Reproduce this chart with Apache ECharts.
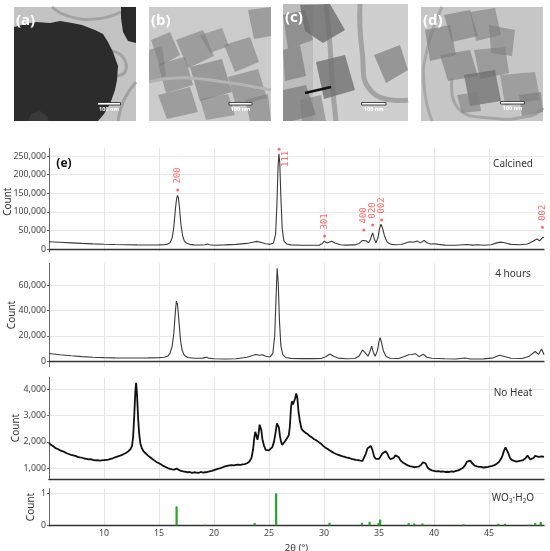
<!DOCTYPE html>
<html><head><meta charset="utf-8">
<script src="https://cdn.jsdelivr.net/npm/echarts@6/dist/echarts.min.js"></script>
<style>html,body{margin:0;padding:0;background:#fff}#c{width:550px;height:551px}</style>
</head><body><div id="c"></div>
<script>
// ---------- DATA ----------
const xTicks = [10, 15, 20, 25, 30, 35, 40, 45];
const panelNames = ['Calcined', '4 hours', 'No Heat', 'WO3·H2O'];
const calcined = [[5,19500],[6,18000],[7,16500],[8,15000],[9,13800],[10,12800],[11,12000],[12,11400],[13,11000],[14,10800],[15,11000],[15.5,11600],[15.8,13000],[16.0,17000],[16.2,30000],[16.35,60000],[16.5,110000],[16.6,135000],[16.68,144000],[16.76,138000],[16.85,115000],[17.0,65000],[17.15,35000],[17.3,22000],[17.5,15500],[17.8,12500],[18.2,11200],[18.8,10800],[19.2,11500],[19.4,13500],[19.6,11500],[20.0,10200],[21.0,11000],[22.0,12500],[23.0,15000],[23.5,18000],[23.9,20500],[24.3,17500],[24.7,14000],[25.1,12500],[25.4,16000],[25.6,40000],[25.72,120000],[25.82,220000],[25.9,256000],[25.98,230000],[26.08,140000],[26.2,55000],[26.35,22000],[26.6,13500],[27.0,11000],[28,10200],[29,10000],[29.6,10500],[29.85,15000],[30.03,21000],[30.3,16000],[30.5,18500],[30.7,21000],[31.0,16000],[31.5,11500],[32.0,10500],[32.8,11000],[33.2,15000],[33.5,23000],[33.67,27000],[33.85,22000],[34.05,16500],[34.2,25000],[34.42,43500],[34.57,28000],[34.72,17000],[34.9,30000],[35.05,55000],[35.18,66500],[35.3,58000],[35.5,35000],[35.75,18000],[36.1,12500],[36.5,11500],[37.0,12000],[37.5,17000],[37.8,19500],[38.15,18000],[38.45,21500],[38.75,16500],[39.1,23000],[39.4,16000],[39.7,13500],[40.1,14000],[40.4,12500],[41.0,10500],[42.0,10200],[43.0,12000],[43.5,10500],[44.0,11500],[44.5,10200],[45.2,11500],[45.7,16500],[46.05,18500],[46.4,17000],[47.0,12500],[47.8,11500],[48.5,13500],[49.0,21000],[49.35,27000],[49.6,22000],[49.9,32000],[50.0,30000]];
const hours4 = [[5,6000],[6,5000],[7,4200],[8,3500],[9,3000],[10,2700],[11,2500],[12,2400],[13,2400],[14,2500],[15,2700],[15.5,3000],[15.8,3800],[16.0,6000],[16.2,12000],[16.35,22000],[16.48,38000],[16.58,47500],[16.68,45000],[16.8,33000],[16.95,17000],[17.1,8500],[17.3,4500],[17.6,2800],[18.2,2200],[19.0,2300],[19.3,3000],[19.5,2300],[20.0,1800],[21.0,1600],[22.0,1800],[23.0,3000],[23.5,4300],[23.8,5200],[24.1,4500],[24.4,5000],[24.7,3800],[25.1,3200],[25.35,6000],[25.52,20000],[25.64,50000],[25.74,73500],[25.84,62000],[25.95,32000],[26.08,12000],[26.25,5000],[26.5,2800],[27,2100],[28,1900],[29,1900],[29.8,2100],[30.2,3500],[30.55,5500],[30.9,3600],[31.3,2300],[32,1800],[32.8,2000],[33.2,4000],[33.5,8800],[33.75,6500],[34.0,3800],[34.18,7500],[34.33,11800],[34.48,7000],[34.65,3800],[34.85,8000],[35.0,15500],[35.1,18500],[35.22,15000],[35.4,8000],[35.65,3500],[36,2200],[36.8,2000],[37.3,3500],[37.7,5000],[38.0,5200],[38.3,5800],[38.65,3500],[39.05,5300],[39.35,3000],[39.8,2200],[41,1800],[42,1600],[42.8,2400],[43.3,1600],[44.5,1700],[45.4,2500],[45.95,4600],[46.4,3600],[47,2200],[48,2000],[48.6,3500],[49.2,7500],[49.5,5200],[49.78,9500],[50,5000]];
const noHeat = [[5.0,1960],[5.1,1930],[5.2,1880],[5.3,1870],[5.4,1830],[5.5,1800],[5.6,1760],[5.7,1760],[5.8,1730],[5.9,1700],[6.0,1680],[6.1,1690],[6.2,1650],[6.3,1640],[6.4,1620],[6.5,1580],[6.6,1570],[6.7,1570],[6.8,1540],[6.9,1530],[7.0,1510],[7.1,1520],[7.2,1490],[7.3,1480],[7.4,1470],[7.5,1460],[7.6,1430],[7.7,1440],[7.8,1410],[7.9,1420],[8.0,1400],[8.1,1380],[8.2,1370],[8.3,1390],[8.4,1360],[8.5,1340],[8.6,1340],[8.7,1360],[8.8,1350],[8.9,1320],[9.0,1320],[9.1,1330],[9.2,1300],[9.3,1320],[9.4,1310],[9.5,1280],[9.6,1290],[9.7,1310],[9.8,1300],[9.9,1290],[10.0,1310],[10.1,1300],[10.2,1320],[10.3,1340],[10.4,1330],[10.5,1340],[10.6,1360],[10.7,1370],[10.8,1380],[10.9,1400],[11.0,1410],[11.1,1420],[11.2,1440],[11.3,1460],[11.4,1470],[11.5,1480],[11.6,1500],[11.7,1530],[11.8,1540],[11.9,1560],[12.0,1580],[12.1,1610],[12.2,1640],[12.3,1680],[12.4,1720],[12.5,1790],[12.55,1850],[12.65,2200],[12.75,3000],[12.85,3900],[12.92,4230],[13.0,3800],[13.1,2900],[13.2,2300],[13.3,1950],[13.45,1750],[13.6,1640],[13.7,1600],[13.8,1560],[13.9,1510],[14.0,1480],[14.1,1460],[14.2,1420],[14.3,1390],[14.4,1350],[14.5,1330],[14.6,1290],[14.7,1270],[14.8,1230],[14.9,1220],[15.0,1190],[15.1,1160],[15.2,1140],[15.3,1120],[15.4,1090],[15.5,1080],[15.6,1050],[15.7,1030],[15.8,1010],[15.9,1000],[16.0,980],[16.1,970],[16.2,960],[16.3,940],[16.4,950],[16.5,980],[16.6,990],[16.7,960],[16.8,940],[16.9,920],[17.0,900],[17.1,890],[17.2,880],[17.3,890],[17.4,870],[17.5,860],[17.6,850],[17.7,870],[17.8,860],[17.9,840],[18.0,830],[18.1,860],[18.2,850],[18.3,830],[18.4,840],[18.5,860],[18.6,830],[18.7,840],[18.8,860],[18.9,850],[19.0,840],[19.1,870],[19.2,850],[19.3,840],[19.4,860],[19.5,870],[19.6,880],[19.7,870],[19.8,900],[19.9,910],[20.0,930],[20.1,940],[20.2,960],[20.3,970],[20.4,990],[20.5,1000],[20.6,1010],[20.7,1030],[20.8,1040],[20.9,1060],[21.0,1070],[21.1,1080],[21.2,1090],[21.3,1100],[21.4,1110],[21.5,1100],[21.6,1120],[21.7,1130],[21.8,1110],[21.9,1120],[22.0,1130],[22.1,1120],[22.2,1140],[22.3,1150],[22.4,1130],[22.5,1140],[22.6,1150],[22.7,1170],[22.8,1160],[22.9,1180],[23.0,1190],[23.1,1210],[23.2,1250],[23.3,1300],[23.4,1380],[23.55,1700],[23.65,2100],[23.75,2380],[23.85,2250],[23.95,2080],[24.05,2300],[24.15,2650],[24.22,2720],[24.3,2450],[24.4,2100],[24.55,1850],[24.7,1700],[24.85,1660],[25.0,1680],[25.15,1720],[25.3,1800],[25.45,2000],[25.6,2350],[25.72,2700],[25.8,2760],[25.9,2550],[26.0,2200],[26.1,2000],[26.2,1880],[26.35,1920],[26.5,2050],[26.65,2150],[26.8,2250],[26.9,2600],[27.0,3300],[27.08,3530],[27.18,3420],[27.27,3380],[27.38,3650],[27.48,3830],[27.58,3650],[27.68,3150],[27.8,2800],[27.95,2500],[28.1,2420],[28.2,2400],[28.3,2350],[28.4,2340],[28.5,2300],[28.6,2270],[28.7,2220],[28.8,2200],[28.9,2170],[29.0,2140],[29.1,2100],[29.2,2090],[29.3,2060],[29.4,2030],[29.5,2000],[29.6,1980],[29.7,1940],[29.8,1900],[29.9,1860],[30.0,1830],[30.1,1790],[30.2,1770],[30.3,1740],[30.4,1700],[30.5,1680],[30.6,1650],[30.7,1630],[30.8,1600],[30.9,1580],[31.0,1560],[31.1,1540],[31.2,1530],[31.3,1510],[31.4,1490],[31.5,1480],[31.6,1470],[31.7,1450],[31.8,1440],[31.9,1430],[32.0,1410],[32.1,1400],[32.2,1400],[32.3,1390],[32.4,1370],[32.5,1360],[32.6,1350],[32.7,1340],[32.8,1330],[32.9,1320],[33.0,1310],[33.1,1310],[33.2,1300],[33.3,1290],[33.4,1280],[33.5,1280],[33.65,1350],[33.8,1550],[33.95,1750],[34.1,1820],[34.25,1850],[34.4,1700],[34.55,1450],[34.7,1360],[34.85,1330],[35.0,1360],[35.15,1450],[35.3,1560],[35.45,1620],[35.6,1640],[35.75,1560],[35.9,1420],[36.05,1340],[36.2,1330],[36.35,1400],[36.5,1490],[36.65,1510],[36.8,1420],[36.95,1300],[37.1,1240],[37.2,1210],[37.3,1180],[37.4,1160],[37.5,1130],[37.6,1110],[37.7,1090],[37.8,1080],[37.9,1060],[38.0,1060],[38.1,1050],[38.2,1040],[38.3,1040],[38.4,1050],[38.5,1050],[38.6,1060],[38.7,1080],[38.85,1140],[39.0,1230],[39.12,1260],[39.25,1180],[39.4,1040],[39.5,990],[39.6,960],[39.7,940],[39.8,920],[39.9,910],[40.0,900],[40.1,890],[40.2,880],[40.3,900],[40.4,890],[40.5,870],[40.6,870],[40.7,890],[40.8,880],[40.9,860],[41.0,860],[41.1,880],[41.2,870],[41.3,850],[41.4,860],[41.5,880],[41.6,880],[41.7,860],[41.8,870],[41.9,890],[42.0,900],[42.1,900],[42.2,920],[42.3,940],[42.4,960],[42.5,980],[42.6,1010],[42.7,1050],[42.8,1100],[42.9,1170],[43.0,1250],[43.15,1310],[43.3,1290],[43.45,1200],[43.6,1130],[43.7,1100],[43.8,1080],[43.9,1070],[44.0,1060],[44.1,1050],[44.2,1040],[44.3,1050],[44.4,1040],[44.5,1030],[44.6,1030],[44.7,1040],[44.8,1050],[44.9,1050],[45.0,1060],[45.1,1070],[45.2,1080],[45.3,1090],[45.4,1110],[45.5,1120],[45.6,1140],[45.7,1170],[45.8,1200],[45.9,1240],[46.0,1290],[46.1,1360],[46.2,1450],[46.35,1650],[46.5,1790],[46.6,1760],[46.75,1580],[46.9,1400],[47.05,1320],[47.2,1290],[47.3,1280],[47.4,1270],[47.5,1250],[47.6,1260],[47.7,1270],[47.8,1280],[47.9,1290],[48.0,1300],[48.1,1310],[48.2,1330],[48.3,1370],[48.4,1420],[48.5,1480],[48.6,1430],[48.75,1340],[48.9,1350],[49.05,1390],[49.2,1470],[49.35,1520],[49.5,1430],[49.65,1390],[49.8,1450],[49.9,1420],[50.0,1430]];
const refSticks = [[16.6,0.59],[19.2,0.02],[23.7,0.07],[25.65,1.0],[30.5,0.08],[33.45,0.08],[34.15,0.11],[34.95,0.07],[35.1,0.18],[37.7,0.07],[38.2,0.06],[38.95,0.06],[39.6,0.02],[42.7,0.03],[45.85,0.05],[46.45,0.05],[48.6,0.02],[49.2,0.07],[49.7,0.11]];
const hklLabels = ['200', '', '111', '301', '400', '020', '002', '002'];
const hklPos = [[16.7,158600],[25.92,268000],[26.4,207000],[30.05,35000],[33.62,51000],[34.42,64500],[35.24,78000],[49.85,58300]];
const hklDot = [true, true, false, true, true, true, true, true];

// ---------- LAYOUT ----------
const L = 49, R = 6;
const grids = [
  {top: 148.3, height: 103.4},
  {top: 263.3, height: 103.4},
  {top: 377.3, height: 101.7},
  {top: 488.5, height: 37.5}
];
const yCfg = [
  {min: -7260, max: 270700, split: 5},
  {min: -4520, max: 77440, split: 4},
  {min: 595, max: 4443, split: 4},
  {min: -0.02, max: 1.15, split: 1}
];
const countPos = [[8.5, 201.7], [12.5, 315], [16.5, 428], [31, 507]];
const FONT = 'Noto Sans';
const TICKFS = 8.8;

const xAxes = grids.map((g, i) => ({
  type: 'value', gridIndex: i, min: 5, max: 50, interval: 5,
  axisLine: {show: true, lineStyle: {color: '#333', width: 1.3}},
  axisTick: {show: false},
  axisLabel: {show: i === 3, fontSize: TICKFS, color: '#444', fontFamily: FONT, margin: 3,
    showMinLabel: false, showMaxLabel: false},
  splitLine: {show: true, showMinLine: false, showMaxLine: false, lineStyle: {color: '#e4e4e4', width: 1}},
  name: i === 3 ? '2θ (°)' : '', nameLocation: 'middle', nameGap: 17,
  nameTextStyle: {fontSize: 9.5, color: '#333', fontFamily: FONT}
}));
const yAxes = yCfg.map((c, i) => ({
  type: 'value', gridIndex: i, min: c.min, max: c.max, splitNumber: c.split,
  axisLine: {show: true, lineStyle: {color: '#666', width: 1}},
  axisTick: {show: true, length: 2, lineStyle: {color: '#666'}},
  axisLabel: {fontSize: TICKFS, color: '#444', fontFamily: FONT, margin: 3,
    showMinLabel: false, showMaxLabel: false,
    formatter: v => Number(v).toLocaleString('en-US')},
  splitLine: {show: true, showMinLine: false, showMaxLine: false, lineStyle: {color: '#e8e8e8', width: 1}}
}));

const hklData = hklPos.map((p, i) => ({
  value: p,
  symbolSize: hklDot[i] ? 3 : 0.01,
  itemStyle: {color: hklDot[i] ? '#ff4848' : 'rgba(0,0,0,0)'},
  label: {show: hklLabels[i] !== '', formatter: hklLabels[i]}
}));

// ---------- TEM image sketches (decorative) ----------
function poly(pts, fill, op) { return {type: 'polygon', shape: {points: pts}, style: {fill: fill, opacity: op == null ? 1 : op}, silent: true}; }
function curve(pts, stroke, w) {
  return {type: 'polyline', shape: {points: pts, smooth: 0.5}, style: {stroke: stroke, lineWidth: w, fill: null}, silent: true};
}
function rect(x, y, w, h, fill) { return {type: 'rect', shape: {x, y, width: w, height: h}, style: {fill}, silent: true}; }
function tag(t, x, y) { return {type: 'text', x, y, style: {text: t, fill: '#fff', font: 'bold 15px ' + FONT, textVerticalAlign: 'middle'}, silent: true}; }
function scale(x1, x2, y) {
  return [
    {type: 'rect', shape: {x: x1, y: y, width: x2 - x1, height: 2.5}, style: {fill: '#fff', stroke: '#222', lineWidth: 0.8}, silent: true},
    {type: 'text', x: (x1 + x2) / 2, y: y + 7, style: {text: '100 nm', fill: '#fff', font: 'bold 5.5px ' + FONT, textAlign: 'center', textVerticalAlign: 'middle'}, silent: true}
  ];
}
const P = '#7e7e7e';
const tem = [].concat(
  // (a)
  [rect(14, 7, 122, 114, '#c3c3c3'),
   curve([[52,7],[68,16],[96,19],[121,12]], '#a2a2a2', 3),
   curve([[106,50],[122,56],[125,72],[112,76]], '#a2a2a2', 3),
   curve([[118,121],[124,100],[136,82]], '#a2a2a2', 3),
   poly([[14,27],[26,24],[36,22],[50,23],[60,21],[72,23],[82,25],[95,30],[103,34],[108,42],[113,52],[118,66],[117,80],[115,90],[110,104],[104,114],[98,121],[14,121]], '#2c2c2c'),
   poly([[121,7],[136,7],[136,43],[128,41],[123,32],[121,18]], '#2a2a2a'),
   poly([[28,121],[31,114],[40,111],[47,116],[49,121]], '#3a3a3a'),
   tag('(a)', 16, 21)],
  scale(97.5, 120.5, 102.5),
  // (b)
  [rect(149, 7, 122, 114, '#cbcbcb'),
   poly([[151,40],[170,32],[180,55],[160,66]], P, 0.6),
   poly([[176,40],[203,30],[214,56],[188,68]], P, 0.6),
   poly([[200,35],[222,28],[229,46],[210,53]], P, 0.55),
   poly([[224,45],[250,37],[259,62],[235,72]], P, 0.6),
   poly([[248,10],[271,7],[271,36],[254,39]], P, 0.6),
   poly([[158,64],[185,57],[193,85],[166,93]], P, 0.6),
   poly([[190,67],[222,59],[232,92],[200,101]], P, 0.65),
   poly([[228,77],[258,69],[267,98],[236,106]], P, 0.6),
   poly([[158,95],[190,87],[198,112],[167,119]], P, 0.6),
   poly([[200,99],[228,94],[235,115],[206,120]], P, 0.55),
   poly([[149,50],[162,46],[166,76],[149,82]], P, 0.55),
   poly([[245,100],[268,94],[271,121],[250,121]], P, 0.6),
   curve([[149,82],[175,78],[210,80],[271,90]], '#b4b4b4', 3),
   tag('(b)', 151, 21)],
  scale(229, 252, 102.5),
  // (c)
  [rect(283, 4, 125, 117, '#cfcfcf'),
   rect(283, 4, 30, 117, '#bcbcbc'),
   curve([[326,4],[330,45],[332,80],[336,121]], '#a3a3a3', 5),
   curve([[360,4],[362,50],[372,92],[408,100]], '#a3a3a3', 5),
   poly([[283,15],[305,10],[313,40],[288,49]], P, 0.7),
   poly([[300,5],[330,4],[345,30],[323,43],[305,31]], '#6d6d6d', 0.8),
   poly([[283,50],[300,45],[306,76],[285,81]], P, 0.7),
   poly([[316,62],[345,55],[355,90],[324,99]], '#707070', 0.8),
   poly([[374,55],[400,45],[408,70],[386,83]], P, 0.7),
   poly([[283,90],[306,85],[316,115],[292,121],[283,121]], P, 0.75),
   poly([[300,100],[321,95],[326,121],[302,121]], P, 0.6),
   {type: 'line', shape: {x1: 305, y1: 93, x2: 331, y2: 87}, style: {stroke: '#111', lineWidth: 2.5}, silent: true},
   tag('(c)', 285, 18)],
  scale(361.5, 386, 102.5),
  // (d)
  [rect(421, 7, 122, 114, '#c6c6c6'),
   curve([[442,7],[427,50],[424,85],[432,121]], '#a8a8a8', 3),
   curve([[452,78],[458,108],[490,118],[530,116],[543,108]], '#a5a5a5', 3),
   poly([[425,30],[450,25],[456,55],[430,61]], P, 0.65),
   poly([[444,15],[470,10],[478,36],[452,42]], P, 0.65),
   poly([[470,12],[495,8],[501,35],[476,41]], P, 0.6),
   poly([[489,25],[515,30],[512,56],[491,53]], P, 0.6),
   poly([[440,55],[470,50],[478,76],[448,81]], P, 0.65),
   poly([[474,50],[505,47],[509,73],[480,79]], P, 0.6),
   poly([[464,75],[495,70],[501,101],[470,106]], '#6a6a6a', 0.7),
   poly([[500,75],[535,72],[540,100],[505,105]], P, 0.55),
   poly([[519,95],[541,92],[543,112],[522,116]], P, 0.65),
   poly([[457,95],[478,92],[481,111],[462,113]], P, 0.6),
   tag('(d)', 423, 21)],
  scale(500.5, 524.5, 101.5)
);

const texts = [
  {type: 'text', x: 64, y: 164, style: {text: '(e)', fill: '#111', font: 'bold 12px ' + FONT, textAlign: 'center', textVerticalAlign: 'middle'}, z: 10},
  {type: 'text', x: 513, y: 164, style: {text: panelNames[0], fill: '#333', font: '10px ' + FONT, textAlign: 'center', textVerticalAlign: 'middle'}, z: 10},
  {type: 'text', x: 513, y: 274, style: {text: panelNames[1], fill: '#333', font: '10px ' + FONT, textAlign: 'center', textVerticalAlign: 'middle'}, z: 10},
  {type: 'text', x: 513, y: 393, style: {text: panelNames[2], fill: '#333', font: '10px ' + FONT, textAlign: 'center', textVerticalAlign: 'middle'}, z: 10},
  {type: 'text', x: 513, y: 498, style: {text: 'WO{s|3}·H{s|2}O', fill: '#333', font: '10px ' + FONT, textAlign: 'center', textVerticalAlign: 'middle',
    rich: {s: {fontSize: 6.5, fontFamily: FONT, fill: '#333', padding: [6, 0, 0, 0]}}}, z: 10}
].concat(countPos.map(p => ({
  type: 'text', x: p[0], y: p[1], rotation: Math.PI / 2,
  style: {text: 'Count', fill: '#333', font: '10px ' + FONT, textAlign: 'center', textVerticalAlign: 'middle'}, z: 10
})));

const chart = echarts.init(document.getElementById('c'), null, {renderer: 'canvas'});
chart.setOption({
  animation: false,
  backgroundColor: '#fff',
  textStyle: {fontFamily: FONT},
  grid: grids.map(g => ({left: L, right: R, top: g.top, height: g.height, containLabel: false, outerBoundsMode: 'none'})),
  xAxis: xAxes,
  yAxis: yAxes,
  series: [
    {type: 'line', xAxisIndex: 0, yAxisIndex: 0, data: calcined, showSymbol: false, symbol: 'none',
      lineStyle: {color: '#3a3a3a', width: 1.1}, z: 3},
    {type: 'scatter', xAxisIndex: 0, yAxisIndex: 0, data: hklData, z: 5, clip: false,
      label: {show: true, rotate: 90, position: [1.5, -5], align: 'left', verticalAlign: 'middle',
        fontSize: 9, color: '#ff4848', fontFamily: 'DejaVu Sans Mono'}},
    {type: 'line', xAxisIndex: 1, yAxisIndex: 1, data: hours4, showSymbol: false, symbol: 'none',
      lineStyle: {color: '#3a3a3a', width: 1.1}, z: 3},
    {type: 'line', xAxisIndex: 2, yAxisIndex: 2, data: noHeat, showSymbol: false, symbol: 'none',
      lineStyle: {color: '#111', width: 1.8}, z: 3},
    {type: 'bar', xAxisIndex: 3, yAxisIndex: 3, data: refSticks, barWidth: 2.2,
      itemStyle: {color: '#27a327'}, z: 3}
  ],
  graphic: tem.concat(texts)
});
</script></body></html>
